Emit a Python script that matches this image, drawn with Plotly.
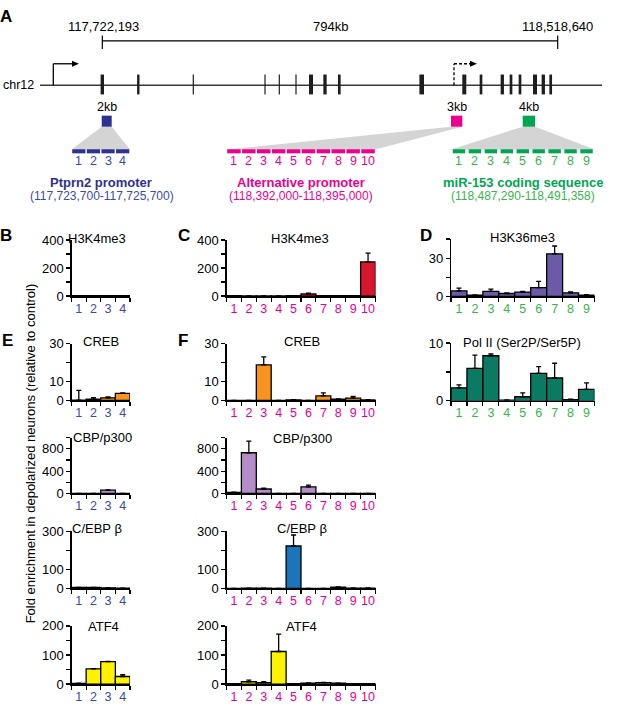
import plotly.graph_objects as go

W, H = 617, 709
FONT = "Arial, Liberation Sans, sans-serif"

def px(x):
    return x / W

def py(y):
    return 1 - y / H

# ---------------- data ----------------
seg_ptprn2 = ["1", "2", "3", "4"]
seg_alt = ["1", "2", "3", "4", "5", "6", "7", "8", "9", "10"]
seg_mir = ["1", "2", "3", "4", "5", "6", "7", "8", "9"]

B_h3k4me3 = [2, 3, 3, 2]
B_h3k4me3_err = [0.5, 0.5, 0.5, 0.5]
C_h3k4me3 = [2, 1, 1, 1, 2, 15, 2, 2, 2, 243]
C_h3k4me3_err = [0, 0, 0, 0, 0, 6, 0, 0, 0, 63]
D_h3k36me3 = [4.4, 1.0, 3.9, 2.3, 3.4, 6.9, 33.4, 2.8, 1.0]
D_h3k36me3_err = [2.1, 0.2, 1.8, 0.5, 0.5, 4.9, 6.1, 0.8, 0.5]
D_pol2 = [2.25, 5.6, 7.8, 0.1, 0.7, 4.75, 3.95, 0.2, 1.97]
D_pol2_err = [0.5, 2.3, 0.3, 0.05, 0.66, 1.15, 2.55, 0.1, 1.13]
E_creb = [0.2, 0.7, 1.4, 3.8]
E_creb_err = [5.1, 0.8, 0.5, 0.2]
F_creb = [0, 0, 18.8, 0, 0.35, 0, 2.4, 0.7, 1.2, 0.3]
F_creb_err = [0, 0, 4.3, 0, 0.1, 0, 1.6, 0.15, 0.9, 0.1]
E_cbp = [2, 2, 60, 3]
E_cbp_err = [0, 0, 5, 0]
F_cbp = [20, 730, 80, 3, 3, 120, 3, 2, 2, 2]
F_cbp_err = [2, 210, 15, 0, 0, 30, 0, 0, 0, 0]
E_cebpb = [5, 5, 3, 1]
E_cebpb_err = [1, 1, 1, 0]
F_cebpb = [0, 2, 1, 0, 223, 0, 0, 7, 2, 2]
F_cebpb_err = [0, 0, 0, 0, 58, 0, 0, 1, 1, 1]
E_atf4 = [2, 52, 77, 26]
E_atf4_err = [1, 1, 1, 6]
F_atf4 = [1, 8, 5, 112, 1, 3, 5, 3, 1, 1]
F_atf4_err = [0, 5.5, 3, 60, 0, 1, 1, 0, 0, 0]

NAVY = "#2e3192"
NAVY_T = "#3b4ba3"
MAG = "#ec008c"
GRN = "#00a651"
GRN_T = "#39b54a"

# columns (pixel x-extent)
colB = (71.5, 130)
colC = (226.5, 375.5)
colD = (451, 594.5)

panels = [
    dict(cats=seg_ptprn2, v=B_h3k4me3, e=B_h3k4me3_err, c="#d7172f", tc=NAVY_T, col=colB, y=(238, 295.3),
         rng=[0, 400], tv=[0, 100, 200, 300, 400], tt=["0", "", "200", "", "400"], title="H3K4me3", tx=97, ty=237),
    dict(cats=seg_alt, v=C_h3k4me3, e=C_h3k4me3_err, c="#d7172f", tc=MAG, col=colC, y=(238, 295.3),
         rng=[0, 400], tv=[0, 100, 200, 300, 400], tt=["0", "", "200", "", "400"], title="H3K4me3", tx=300, ty=237),
    dict(cats=seg_mir, v=D_h3k36me3, e=D_h3k36me3_err, c="#6b5aa6", tc=GRN_T, col=colD, y=(237, 295.7),
         rng=[0, 45], tv=[0, 15, 30, 45], tt=["0", "", "30", ""], title="H3K36me3", tx=522, ty=235.5),
    dict(cats=seg_ptprn2, v=E_creb, e=E_creb_err, c="#f7941d", tc=NAVY_T, col=colB, y=(344, 402),
         rng=[0, 30], tv=[0, 10, 20, 30], tt=["0", "10", "", "30"], title="CREB", tx=101, ty=341.5),
    dict(cats=seg_alt, v=F_creb, e=F_creb_err, c="#f7941d", tc=MAG, col=colC, y=(344, 402),
         rng=[0, 30], tv=[0, 10, 20, 30], tt=["0", "10", "", "30"], title="CREB", tx=302, ty=341.5),
    dict(cats=seg_mir, v=D_pol2, e=D_pol2_err, c="#0b7a63", tc=GRN_T, col=colD, y=(343.3, 402.3),
         rng=[0, 10], tv=[0, 5, 10], tt=["0", "", "10"], title="Pol II (Ser2P/Ser5P)", tx=522, ty=343),
    dict(cats=seg_ptprn2, v=E_cbp, e=E_cbp_err, c="#b48cc6", tc=NAVY_T, col=colB, y=(440, 497),
         rng=[0, 1000], tv=[0, 200, 400, 600, 800, 1000], tt=["0", "", "400", "", "800", ""], title="CBP/p300", tx=102, ty=440),
    dict(cats=seg_alt, v=F_cbp, e=F_cbp_err, c="#b48cc6", tc=MAG, col=colC, y=(440, 497),
         rng=[0, 1000], tv=[0, 200, 400, 600, 800, 1000], tt=["0", "", "400", "", "800", ""], title="CBP/p300", tx=302, ty=440.5),
    dict(cats=seg_ptprn2, v=E_cebpb, e=E_cebpb_err, c="#1b75bb", tc=NAVY_T, col=colB, y=(535.7, 594),
         rng=[0, 300], tv=[0, 100, 200, 300], tt=["0", "100", "", "300"], title="C/EBP β", tx=97, ty=533),
    dict(cats=seg_alt, v=F_cebpb, e=F_cebpb_err, c="#1b75bb", tc=MAG, col=colC, y=(535.7, 594),
         rng=[0, 300], tv=[0, 100, 200, 300], tt=["0", "100", "", "300"], title="C/EBP β", tx=302, ty=533),
    dict(cats=seg_ptprn2, v=E_atf4, e=E_atf4_err, c="#fff200", tc=NAVY_T, col=colB, y=(632.3, 691.7),
         rng=[0, 200], tv=[0, 50, 100, 150, 200], tt=["0", "", "100", "", "200"], title="ATF4", tx=103, ty=633),
    dict(cats=seg_alt, v=F_atf4, e=F_atf4_err, c="#fff200", tc=MAG, col=colC, y=(632.3, 691.7),
         rng=[0, 200], tv=[0, 50, 100, 150, 200], tt=["0", "", "100", "", "200"], title="ATF4", tx=301, ty=633),
]

fig = go.Figure()
layout_axes = {}
annotations = []
shapes = []

for i, p in enumerate(panels, start=1):
    xn = "x" if i == 1 else f"x{i}"
    yn = "y" if i == 1 else f"y{i}"
    n = len(p["cats"])
    fig.add_trace(go.Bar(
        x=p["cats"], y=p["v"], xaxis=xn, yaxis=yn,
        marker=dict(color=p["c"], line=dict(color="black", width=1.3)),
        error_y=dict(type="data", symmetric=False, array=p["e"], arrayminus=[0] * n,
                     color="black", thickness=1.3, width=2.5),
        showlegend=False, hoverinfo="skip",
    ))
    layout_axes["xaxis" if i == 1 else f"xaxis{i}"] = dict(
        domain=[px(p["col"][0]), px(p["col"][1])], anchor=yn, type="category",
        range=[-0.5, n - 0.5], showline=True, linecolor="black", linewidth=1.5,
        tickmode="array", tickvals=p["cats"], ticktext=p["cats"], tickangle=0,
        ticks="outside", tickson="boundaries", ticklen=4, tickwidth=1.2, tickcolor="black",
        tickfont=dict(family=FONT, size=12.5, color=p["tc"]), showgrid=False, zeroline=False,
        fixedrange=True,
    )
    layout_axes["yaxis" if i == 1 else f"yaxis{i}"] = dict(
        domain=[py(p["y"][1]), py(p["y"][0])], anchor=xn, range=p["rng"],
        tickmode="array", tickvals=p["tv"], ticktext=p["tt"],
        showline=True, linecolor="black", linewidth=1.2, ticks="outside", ticklen=4,
        tickwidth=1.2, tickcolor="black", tickfont=dict(family=FONT, size=13, color="black"),
        showgrid=False, zeroline=False, fixedrange=True,
    )
    annotations.append(dict(text=p["title"], x=px(p["tx"]), y=py(p["ty"]), xref="paper", yref="paper",
                            xanchor="center", yanchor="middle", showarrow=False,
                            font=dict(family=FONT, size=13, color="black")))

# ---------------- panel A diagram ----------------
def txt(s, x, y, size=12.5, color="black", bold=False, xanchor="center", angle=0):
    annotations.append(dict(text=f"<b>{s}</b>" if bold else s, x=px(x), y=py(y), xref="paper", yref="paper",
                            xanchor=xanchor, yanchor="middle", showarrow=False, textangle=angle,
                            font=dict(family=FONT, size=size, color=color)))

def line(x0, y0, x1, y1, color="black", width=1.2, dash="solid"):
    shapes.append(dict(type="line", xref="paper", yref="paper", x0=px(x0), y0=py(y0), x1=px(x1), y1=py(y1),
                       line=dict(color=color, width=width, dash=dash)))

def rect(x0, y0, x1, y1, color):
    shapes.append(dict(type="rect", xref="paper", yref="paper", x0=px(x0), y0=py(y0), x1=px(x1), y1=py(y1),
                       fillcolor=color, line=dict(width=0)))

def poly(pts, color):
    d = "M " + " L ".join(f"{px(a):.5f},{py(b):.5f}" for a, b in pts) + " Z"
    shapes.append(dict(type="path", xref="paper", yref="paper", path=d, fillcolor=color, line=dict(width=0)))

# scale bar
txt("117,722,193", 103, 20, 13)
txt("794kb", 330.5, 20, 13)
txt("118,518,640", 557, 20, 13)
line(102.3, 34.7, 557.7, 34.7, width=1.2)
line(102.3, 29, 102.3, 43, width=1.2)
line(557.7, 29, 557.7, 43, width=1.2)

# chromosome
txt("chr12", 36, 80, 12.5, xanchor="right")
line(40, 80, 602, 80, color="#3a3a3a", width=1.6)

# promoter arrows
line(53.3, 80, 53.3, 58, width=1.3)
line(53.3, 58, 74, 58, width=1.3)
poly([(79, 58), (72, 55), (72, 61)], "black")
line(454, 80, 454, 58, width=1.3, dash="3px,2px")
line(454, 58, 471, 58, width=1.3, dash="3px,2px")
poly([(477, 58), (470, 55), (470, 61)], "black")

# exons (schematic)
exons = [(102.3, 3.4), (138.3, 2.4), (193.3, 1.2), (265, 1.2), (279.3, 1.2), (296, 1.2), (311, 4),
         (325, 3.3), (339.3, 2.7), (421.7, 4.6), (464.3, 4), (481, 2.7), (502.3, 3.3), (511, 2.7),
         (520, 2.7), (535, 4), (543.3, 3.3), (550.7, 2.7)]
for cx, w in exons:
    rect(cx - w / 2, 69, cx + w / 2, 89.3, "#1e1e1e")

# region boxes + zoom trapezoids
GRAY = "#d4d4d4"
poly([(101.7, 122.3), (111.7, 122.3), (130, 145.5), (71.7, 145.5)], GRAY)
poly([(451, 122.3), (462.3, 122.3), (375, 145.5), (226.7, 145.5)], GRAY)
poly([(522.7, 122.3), (535, 122.3), (595, 145.5), (451, 145.5)], GRAY)
rect(101.7, 111, 111.7, 122.3, NAVY)
rect(451, 111, 462.3, 122.3, MAG)
rect(522.7, 111, 535, 122.3, GRN)
txt("2kb", 107, 101.7, 12.5)
txt("3kb", 456.7, 101.7, 12.5)
txt("4kb", 529, 101.7, 12.5)

def segments(cats, x0, x1, gap, color, tcolor):
    n = len(cats)
    step = (x1 - x0) / n
    for k, lab in enumerate(cats):
        a = x0 + k * step
        rect(a + gap / 2, 145.3, a + step - gap / 2, 149.5, color)
        txt(lab, a + step / 2, 157, 12.5, tcolor)

segments(seg_ptprn2, colB[0], colB[1], 1.4, NAVY, NAVY_T)
segments(seg_alt, colC[0], colC[1], 1.4, MAG, MAG)
segments(seg_mir, colD[0], colD[1], 3.5, GRN, GRN_T)

txt("Ptprn2 promoter", 101, 179.3, 13, NAVY, bold=True)
txt("(117,723,700-117,725,700)", 101.7, 192.7, 12, NAVY_T)
txt("Alternative promoter", 301, 179.3, 13, MAG, bold=True)
txt("(118,392,000-118,395,000)", 301, 192.7, 12, MAG)
txt("miR-153 coding sequence", 523.3, 179.3, 13, GRN, bold=True)
txt("(118,487,290-118,491,358)", 522.5, 192.7, 12, GRN_T)

# panel letters
for L, x, y in [("A", 6, 10), ("B", 6, 233), ("C", 184, 233), ("D", 426, 233), ("E", 7, 341), ("F", 183, 341)]:
    txt(L, x, y, 17, bold=True)

# shared y title
txt("Fold enrichment in depolarized neurons (relative to control)", 30, 456, 13, angle=-90)

fig.update_layout(
    width=W, height=H, autosize=False,
    margin=dict(l=0, r=0, t=0, b=0),
    paper_bgcolor="white", plot_bgcolor="white",
    bargap=0, showlegend=False,
    font=dict(family=FONT, color="black"),
    annotations=annotations, shapes=shapes,
    **layout_axes,
)

fig.write_html(
    "out.html",
    config={"displayModeBar": False, "staticPlot": True},
    post_script="document.body.style.margin='0';document.body.style.padding='0';document.body.style.overflow='hidden';",
)
